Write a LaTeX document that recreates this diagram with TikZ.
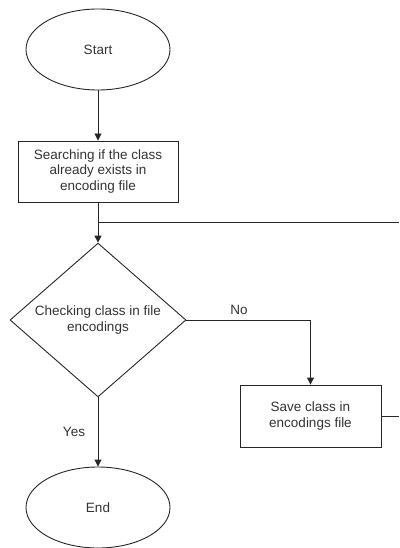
\documentclass[tikz,border=0pt]{standalone}
\usepackage{fontspec}
\setmainfont{Liberation Sans}
\usetikzlibrary{shapes.geometric,arrows.meta}
\begin{document}
\begin{tikzpicture}[x=1pt,y=-1pt,
  every node/.style={font=\fontsize{13.5}{15.2}\selectfont, text=black!80},
  shp/.style={draw=black!85, line width=0.9pt, inner sep=0pt, align=center},
  term/.style={shp, ellipse, minimum width=144pt, minimum height=81pt},
  proc/.style={shp, rectangle, minimum width=160pt, minimum height=61pt},
  proc2/.style={shp, rectangle, minimum width=141pt, minimum height=62pt},
  dec/.style={shp, diamond, minimum width=176pt, minimum height=152pt},
  conn/.style={draw=black!85, line width=0.9pt},
  arr/.style={conn, -{Triangle[length=7pt,width=7pt]}},
  lbl/.style={inner sep=0pt}]
\useasboundingbox (0,0) rectangle (399,548);
\node[term] (start) at (98,49.5) {Start};
\node[proc] (search) at (98,171.5) {Searching if the class\\already exists in\\encoding file};
\node[dec] (check) at (98,320) {Checking class in file\\encodings};
\node[proc2] (save) at (310.5,416) {Save class in\\encodings file};
\node[term] (end) at (98,507.5) {End};
\coordinate (j) at (98,222);
\coordinate (jr) at (399,222);
\coordinate (sr) at (399,416);
\draw[arr] (start) -- (search);
\draw[arr] (search) -- (check);
\draw[conn] (j) -- (jr);
\draw[arr] (check.east) -| (save.north);
\draw[arr] (check.south) -- (end.north);
\draw[conn] (save.east) -- (sr);
\node[lbl] (no) at (239,310) {No};
\node[lbl] (yes) at (74,432) {Yes};
\end{tikzpicture}
\end{document}
